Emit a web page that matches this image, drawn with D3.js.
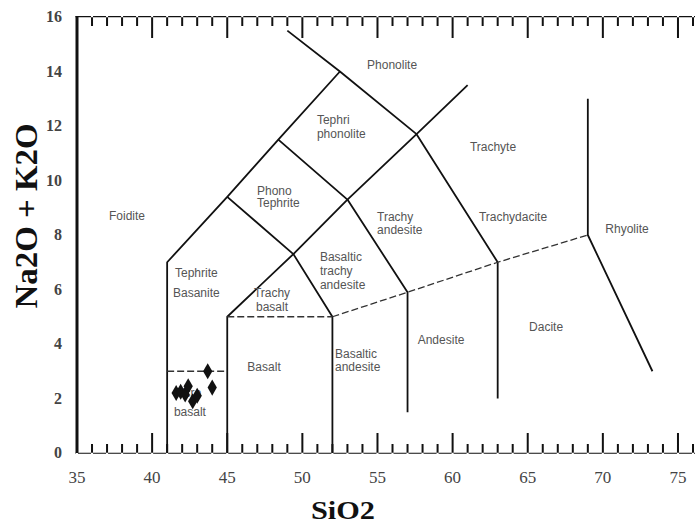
<!DOCTYPE html>
<html>
<head>
<meta charset="utf-8">
<script src="https://cdn.jsdelivr.net/npm/d3@7"></script>
<style>
  html, body { margin: 0; padding: 0; background: #fff; }
  svg { display: block; }
</style>
</head>
<body>
<svg id="chart" width="696" height="526"></svg>
<script>
// ---------- data ----------
const xMajorTicks = [35, 40, 45, 50, 55, 60, 65, 70, 75];
const xAllTicks = [35, 36, 37, 38, 39, 40, 41, 42, 43, 44, 45, 46, 47, 48, 49, 50, 51, 52, 53, 54, 55,
  56, 57, 58, 59, 60, 61, 62, 63, 64, 65, 66, 67, 68, 69, 70, 71, 72, 73, 74, 75, 76];
const yTicks = [0, 2, 4, 6, 8, 10, 12, 14, 16];

// TAS boundaries, [SiO2, Na2O+K2O]
const solidLines = [
  [[41, 0], [41, 7], [45, 9.4], [48.4, 11.5], [52.5, 14]],
  [[49, 15.5], [52.5, 14], [57.6, 11.7], [63, 7], [63, 2]],
  [[45, 0], [45, 5], [49.4, 7.3], [53, 9.3], [57.6, 11.7], [61, 13.5]],
  [[45, 9.4], [49.4, 7.3], [52, 5], [52, 0]],
  [[48.4, 11.5], [53, 9.3], [57, 5.9], [57, 1.5]],
  [[69, 13], [69, 8], [73.3, 3]]
];
const dashedLines = [
  [[45, 5], [52, 5]],
  [[52, 5], [57, 5.9], [63, 7], [69, 8]],
  [[41, 3], [45, 3]]
];

// field names
const fieldLines = [["Foidite"], ["Phonolite"], ["Tephri", "phonolite"], ["Trachyte"], ["Phono", "Tephrite"],
  ["Trachy", "andesite"], ["Trachydacite"], ["Rhyolite"], ["Tephrite"], ["Basanite"], ["Basaltic", "trachy", "andesite"],
  ["Trachy", "basalt"], ["Andesite"], ["Dacite"], ["Basalt"], ["Basaltic", "andesite"], ["Picro", "basalt"]];
const fieldX = [38.33, 55.97, 50.97, 62.69, 46.98, 54.97, 64.02, 71.61, 41.52, 41.39, 51.17, 47.98, 59.23, 66.22, 47.45, 52.17, 41.45];
const fieldY = [8.55, 14.09, 12.07, 11.08, 9.47, 8.51, 8.51, 8.07, 6.46, 5.72, 7.05, 5.72, 4.0, 4.48, 3.01, 3.49, 2.06];
const fieldAnchor = ["middle", "middle", "start", "middle", "start", "start", "middle", "middle", "start", "start", "start",
  "middle", "middle", "middle", "middle", "start", "start"];
const fieldLeading = [0, 0, 14, 0, 12.5, 13, 0, 0, 0, 0, 14, 14, 0, 0, 0, 13, 19];

// samples
const sampleSiO2 = [41.6, 41.9, 42.2, 42.4, 42.7, 43.0, 43.7, 44.0];
const sampleAlk  = [2.2, 2.25, 2.15, 2.45, 1.9, 2.1, 3.0, 2.4];

// ---------- drawing ----------
const svg = d3.select("#chart");
const x = d3.scaleLinear().domain([35, 76]).range([77, 693]);
const y = d3.scaleLinear().domain([0, 16]).range([453, 17]);

const serif = "'Liberation Serif', 'DejaVu Serif', serif";
const sans = "'Liberation Sans', Arial, sans-serif";

// axis rails as filled comb shapes (rail band plus one tooth per tick)
function comb(y0, dir, minorLen, majorLen, band) {
  const pts = [[x(35) - 1.5, y0 - dir * band]];
  xAllTicks.forEach(v => {
    const len = xMajorTicks.includes(v) ? majorLen : minorLen;
    pts.push([x(v) - 1, y0 - dir * band], [x(v) - 1, y0 + dir * len],
             [x(v) + 1, y0 + dir * len], [x(v) + 1, y0 - dir * band]);
  });
  pts.push([695, y0 - dir * band], [695, y0 + dir * band * 0.2], [x(35) - 1.5, y0 + dir * band * 0.2]);
  return pts;
}
const combLine = d3.line().curve(d3.curveLinearClosed);
svg.append("path").attr("d", combLine(comb(y(0), -1, 9, 20, 0.8)))
  .attr("fill", "#111").attr("stroke", "none");
svg.append("path").attr("d", combLine(comb(y(16), 1, 9, 21, 1.1)))
  .attr("fill", "#111").attr("stroke", "none");
// left axis
svg.append("path").attr("d", d3.line()([[x(35), y(16) - 1], [x(35), y(0)]]))
  .attr("fill", "none").attr("stroke", "#111").attr("stroke-width", 3);

// tick labels
svg.append("g").selectAll("text").data(xMajorTicks).join("text")
  .attr("x", d => x(d)).attr("y", y(0) + 30).attr("text-anchor", "middle")
  .attr("font-family", serif).attr("font-size", 17).attr("fill", "#444")
  .text(d => d);
svg.append("g").selectAll("text").data(yTicks).join("text")
  .attr("x", 62).attr("y", d => y(d) + 5).attr("text-anchor", "end")
  .attr("font-family", serif).attr("font-size", 16).attr("font-weight", "bold").attr("fill", "#444")
  .text(d => d);

// boundaries
const line = d3.line().x(d => x(d[0])).y(d => y(d[1]));
svg.append("g").selectAll("path").data(solidLines).join("path")
  .attr("d", line).attr("fill", "none").attr("stroke", "#111").attr("stroke-width", 1.8)
  .attr("stroke-linejoin", "round");
svg.append("g").selectAll("path").data(dashedLines).join("path")
  .attr("d", line).attr("fill", "none").attr("stroke", "#333").attr("stroke-width", 1.3)
  .attr("stroke-dasharray", "7,3");

// field labels
const lg = svg.append("g").attr("font-family", sans).attr("font-size", 12).attr("fill", "#555");
fieldLines.forEach((parts, i) => {
  const t = lg.append("text").attr("x", x(fieldX[i])).attr("y", y(fieldY[i]))
    .attr("text-anchor", fieldAnchor[i]);
  parts.forEach((s, j) => {
    t.append("tspan").attr("x", x(fieldX[i])).attr("dy", j === 0 ? 0 : fieldLeading[i]).text(s);
  });
});

// samples
const samples = sampleSiO2.map((s, i) => [s, sampleAlk[i]]);
svg.append("g").selectAll("path").data(samples).join("path")
  .attr("transform", d => `translate(${x(d[0])},${y(d[1])})`)
  .attr("d", d3.symbol().type(d3.symbolDiamond).size(75))
  .attr("fill", "#111");

// axis titles
svg.append("text").attr("x", 343).attr("y", 519).attr("text-anchor", "middle")
  .attr("font-family", serif).attr("font-weight", "bold").attr("font-size", 26)
  .attr("textLength", 64).attr("lengthAdjust", "spacingAndGlyphs").attr("fill", "#111")
  .text("SiO2");
svg.append("text").attr("transform", "translate(37,216) rotate(-90)").attr("text-anchor", "middle")
  .attr("font-family", serif).attr("font-weight", "bold").attr("font-size", 32)
  .attr("textLength", 185).attr("lengthAdjust", "spacingAndGlyphs").attr("fill", "#111")
  .text("Na2O + K2O");
</script>
</body>
</html>
